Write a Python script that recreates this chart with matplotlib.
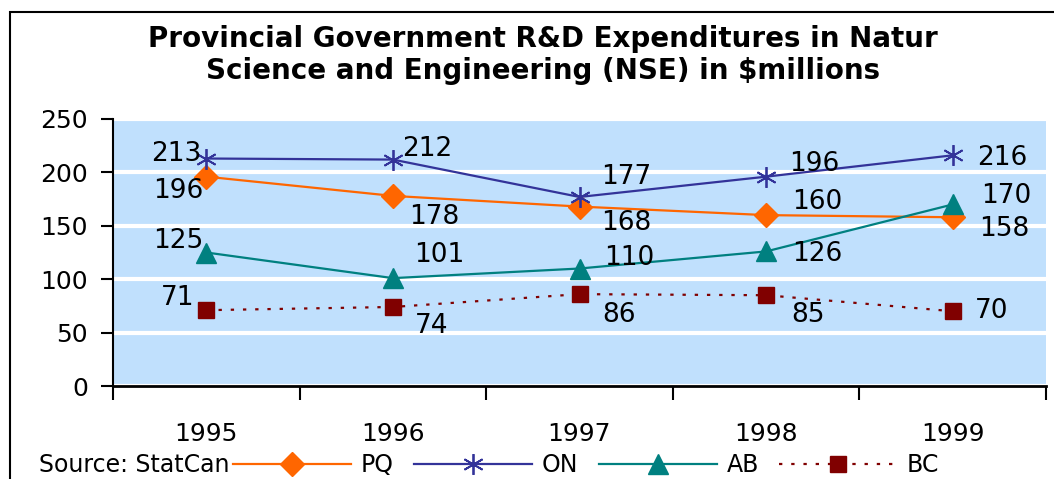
import numpy as np
import matplotlib
matplotlib.use("Agg")
import matplotlib.pyplot as plt
from matplotlib.patches import Rectangle

plt.rcParams['font.family'] = ['DejaVu Sans']

years = ['1995', '1996', '1997', '1998', '1999']
pq = [196, 178, 168, 160, 158]
on = [213, 212, 177, 196, 216]
ab = [125, 101, 110, 126, 170]
bc = [71, 74, 86, 85, 70]

title = 'Provincial Government R&D Expenditures in Natur\nScience and Engineering (NSE) in $millions'
source = 'Source: StatCan'

# label offsets in pixels (dx, dy, ha) for each point
pq_off = [(-3, -14, 'right'), (16, -21, 'left'), (22, -16, 'left'), (26, 13, 'left'), (26, -12, 'left')]
on_off = [(-5, 5, 'right'), (9, 11, 'left'), (22, 20, 'left'), (23, 13, 'left'), (24, -3, 'left')]
ab_off = [(-3, 12, 'right'), (21, 23, 'left'), (25, 11, 'left'), (26, -3, 'left'), (28, 8, 'left')]
bc_off = [(-12, 12, 'right'), (22, -19, 'left'), (23, -21, 'left'), (25, -20, 'left'), (22, 0, 'left')]

fig = plt.figure(figsize=(10.54, 4.79), dpi=100)
ax = fig.add_axes([113/1054, 1-386/479, 933/1054, 267/479])

# outer chart border
fig.patches.append(Rectangle((9.5/1054, -0.2), 1.2, 1.2 - 12/479, transform=fig.transFigure,
                             fill=False, edgecolor='black', linewidth=1.5, zorder=0))

ax.set_facecolor('#c0e0fd')
x = np.arange(len(years)) + 0.5

series = [
    (pq, 'PQ', dict(color='#ff6600', marker='D', ms=12, lw=1.6, ls='-'), pq_off),
    (on, 'ON', dict(color='#333399', marker=(6, 2, 0), ms=15, mew=1.3, lw=1.6, ls='-'), on_off),
    (ab, 'AB', dict(color='#008080', marker='^', ms=14, lw=1.6, ls='-'), ab_off),
    (bc, 'BC', dict(color='#800000', marker='s', ms=11, lw=1.6, ls=(0, (1.5, 4))), bc_off),
]
handles = []
for vals, name, st, offs in series:
    h, = ax.plot(x, vals, label=name, zorder=3, **st)
    handles.append(h)
    for xi, v, (dx, dy, ha) in zip(x, vals, offs):
        ax.annotate(str(v), (xi, v), xytext=(dx, dy), textcoords='offset pixels',
                    ha=ha, va='center', fontsize=19, zorder=4)

ax.set_xlim(0, 5)
ax.set_ylim(0, 250)
ax.set_yticks(np.arange(0, 251, 50))
ax.yaxis.grid(True, color='white', lw=3)
ax.set_axisbelow(True)

ax.set_xticks(np.arange(0, 6))
ax.set_xticklabels([])
ax.set_xticks(x, minor=True)
ax.set_xticklabels(years, minor=True)
ax.tick_params(axis='x', which='major', length=10, width=1.5, direction='out')
ax.tick_params(axis='x', which='minor', length=0, pad=26, labelsize=18)
ax.tick_params(axis='y', length=9, width=1.5, pad=9, labelsize=18)

for s in ['top', 'right']:
    ax.spines[s].set_visible(False)
ax.spines['left'].set_linewidth(1.5)
ax.spines['bottom'].set_linewidth(2)

fig.text(543/1054, 1-55/479, title, ha='center', va='center', fontsize=20,
         fontweight='bold', linespacing=1.2)

fig.text(39/1054, 1-465/479, source, ha='left', va='center', fontsize=17)
fig.legend(handles=handles, loc='center left', bbox_to_anchor=(233/1054, 1-465/479),
           ncol=4, frameon=False, fontsize=17, handlelength=5.0, handletextpad=0.42,
           columnspacing=0.85, borderpad=0, borderaxespad=0)

fig.savefig('out.png', dpi=100)
